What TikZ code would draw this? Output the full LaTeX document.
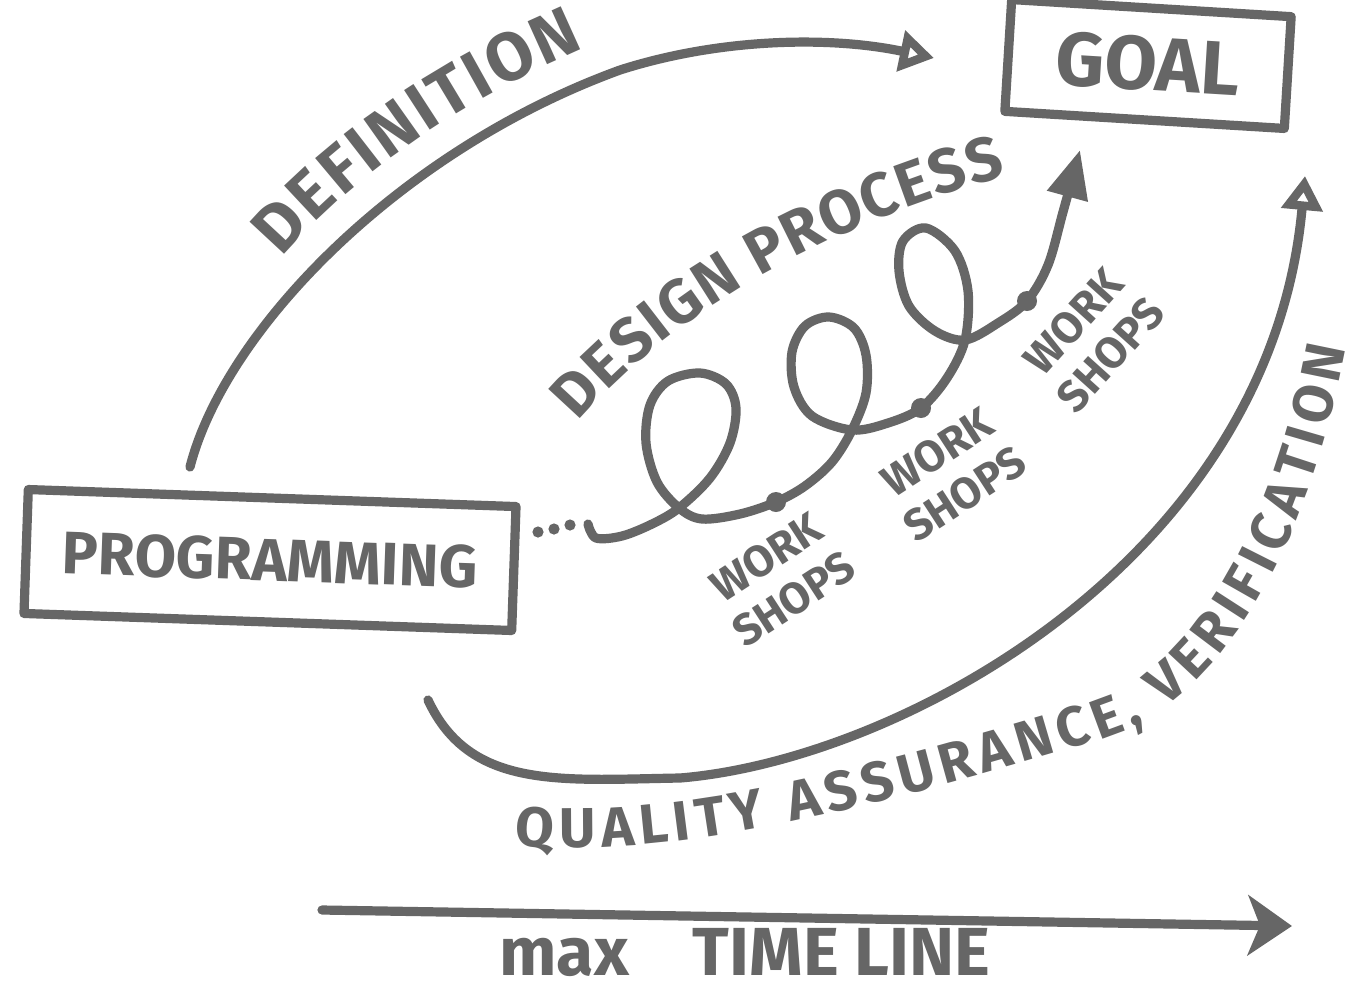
\documentclass[tikz,border=0pt]{standalone}
\usepackage{fontspec}
\setsansfont{Fira Sans}
\usetikzlibrary{arrows.meta}
\usetikzlibrary{decorations.text}
\definecolor{marker}{RGB}{102,102,102}
\newcommand{\handfont}[1]{\sffamily\bfseries\fontsize{#1}{#1}\selectfont}

\begin{document}
\begin{tikzpicture}[x=0.5pt, y=-0.5pt, color=marker, line width=4.6pt,
    line cap=round, line join=round,
    box/.style={draw, rectangle, inner sep=0pt},
    hand/.style={font=\handfont{#1}},
    curved/.style={decorate, decoration={text along path,
        text align={fit to path}, text color=marker,
        text format delimiters={[}{]}, #1}}]
  \fill[white] (0,0) rectangle (1360,1003);
  \useasboundingbox (0,0) rectangle (1360,1003);

  \node[box, hand=30, rotate=-2, minimum width=244pt, minimum height=62pt] (prog) at (270,560) {PROGRAMMING};
  \node[box, hand=38, rotate=-3.5, minimum width=140pt, minimum height=56pt] (goal) at (1148,64) {GOAL};

  \coordinate (defstart) at (190,467);
  \coordinate (defend) at (934,58);
  \draw[-{Triangle[open, length=17pt, width=20pt]}] (defstart) .. controls (225,330) and (400,150) .. (620,70)
    .. controls (720,38) and (830,36) .. (defend);
  \path[curved={text={[\handfont{34}]DEFINITION}}] (282,258) .. controls (340,190) and (440,110) .. (585,48);

  \foreach \x/\y in {538/532, 554/529, 570/525}
    \fill (\x,\y) circle (2.8pt);
  \coordinate (dpstart) at (588,524);
  \coordinate (ws1) at (776,502);
  \coordinate (ws2) at (921,408);
  \coordinate (ws3) at (1027,301);
  \coordinate (dpend) at (1080,150);
  \draw[-{Triangle[length=24pt, width=20pt]}] plot[smooth, tension=0.55] coordinates {(dpstart) (596,538) (622,536) (652,524)
    (679,508) (710,478) (730,443) (736,408) (726,384) (700,373) (668,381) (650,405) (646,443) (657,482) (679,508)
    (702,519) (740,514) (ws1) (805,486) (832,462) (852,430) (866,393) (866,355) (854,328) (829,317) (805,326)
    (792,352) (794,387) (812,416) (852,430) (888,423) (ws2) (947,378) (965,340) (968,291) (955,251) (926,228)
    (903,241) (899,271) (909,306) (935,331) (965,340) (998,323) (ws3) (1048,265) (1063,212) (dpend)};
  \foreach \p in {ws1, ws2, ws3}
    \fill (\p) circle (5pt);
  \path[curved={text={[\handfont{31}]DESIGN PROCESS}}] (578,422) .. controls (665,320) and (820,226) .. (1006,176);

  \node[hand=22, align=center, rotate=33] (shop1) at (780,578) {WORK\\[3pt]SHOPS};
  \node[hand=22, align=center, rotate=33] (shop2) at (951,473) {WORK\\[3pt]SHOPS};
  \node[hand=22, align=center, rotate=48] (shop3) at (1092,338) {WORK\\[3pt]SHOPS};

  \coordinate (qastart) at (428,700);
  \coordinate (qaend) at (1305,176);
  \draw[-{Triangle[open, length=17pt, width=20pt]}] (qastart) .. controls (470,790) and (560,780) .. (680,778)
    .. controls (900,760) and (1270,560) .. (qaend);
  \path[curved={text={[\handfont{28}]QUALITY ASSURANCE, VERIFICATION}}] (515,845) .. controls (680,862) and (900,800) .. (1105,738)
    .. controls (1225,700) and (1310,540) .. (1346,348);

  \coordinate (tlstart) at (322,910);
  \coordinate (tlend) at (1292,926);
  \draw[-{Stealth[length=22pt, width=30pt, inset=6pt]}] (tlstart) -- (tlend);
  \node[hand=34] (tlabel) at (745,952) {max\hspace{32pt}TIME LINE};
\end{tikzpicture}
\end{document}
